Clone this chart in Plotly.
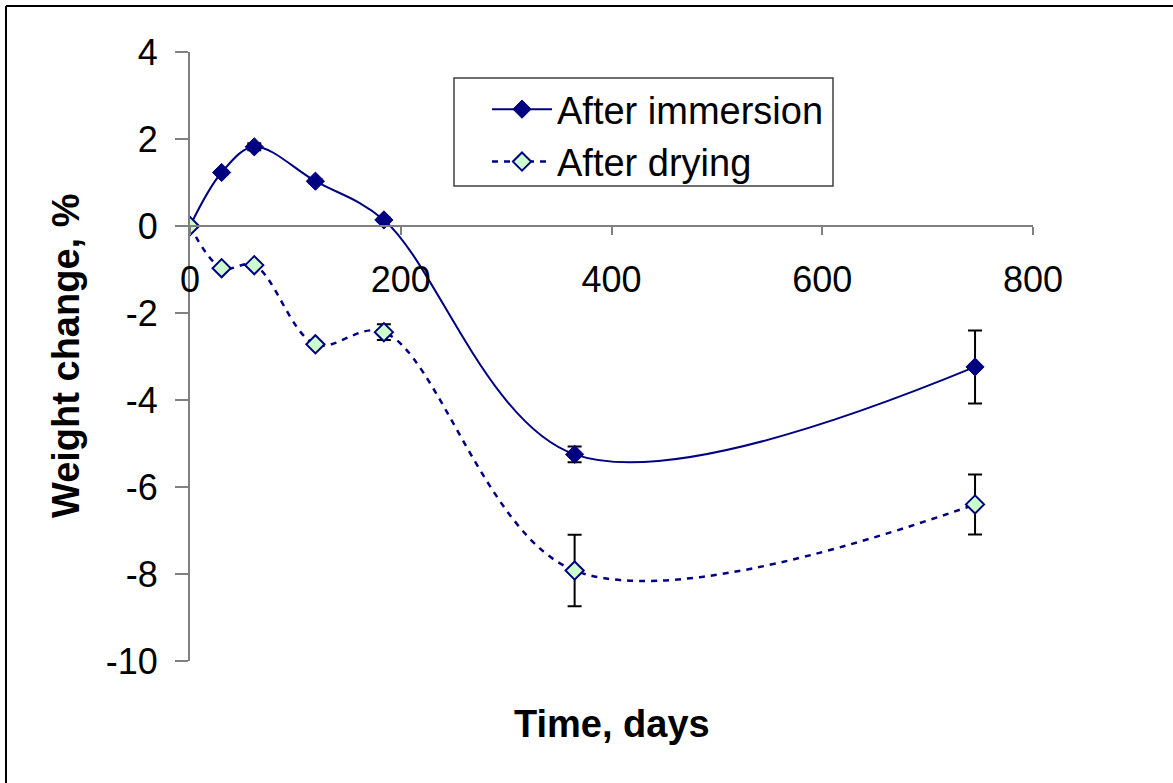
import plotly.graph_objects as go

days = [0, 30, 61, 119, 184, 365, 745]
immersion = [0.0, 1.23, 1.82, 1.03, 0.14, -5.25, -3.24]
immersion_err = [0.0, 0.04, 0.08, 0.05, 0.05, 0.18, 0.84]
drying = [0.0, -0.97, -0.90, -2.72, -2.44, -7.92, -6.40]
drying_err = [0.0, 0.04, 0.04, 0.05, 0.18, 0.82, 0.69]
x_ticks = [0, 200, 400, 600, 800]
y_ticks = [4, 2, 0, -2, -4, -6, -8, -10]

W, H = 1173, 783
L, R, T, B = 190, 1033, 52, 661
FONT = "Liberation Sans, Arial, sans-serif"
NAVY = "#000080"

def px(x):
    return (x - L) / (R - L)

def py(y):
    return (B - y) / (B - T)

fig = go.Figure()
fig.add_trace(go.Scatter(
    x=days, y=immersion, name="After immersion", mode="lines+markers",
    line=dict(color=NAVY, width=2, shape="spline", smoothing=1),
    marker=dict(symbol="diamond", size=14, color=NAVY, line=dict(color=NAVY, width=1)),
    error_y=dict(type="data", array=immersion_err, visible=True, color="black", thickness=2, width=7),
))
fig.add_trace(go.Scatter(
    x=days, y=drying, name="After drying", mode="lines+markers",
    line=dict(color=NAVY, width=2.5, dash="6px,6px", shape="spline", smoothing=1),
    marker=dict(symbol="diamond", size=14, color="#CCFFCC", line=dict(color=NAVY, width=2)),
    error_y=dict(type="data", array=drying_err, visible=True, color="black", thickness=2, width=7),
))

fig.update_layout(
    width=W, height=H,
    margin=dict(l=L, r=W - R, t=T, b=H - B),
    paper_bgcolor="white", plot_bgcolor="white",
    font=dict(family=FONT, size=34, color="black"),
    showlegend=True,
    legend=dict(
        x=px(487), y=py(78), xanchor="left", yanchor="top",
        borderwidth=0, bgcolor="rgba(0,0,0,0)",
        font=dict(family=FONT, size=38, color="black"),
        itemwidth=60, tracegroupgap=0,
    ),
    xaxis=dict(
        range=[0, 800], tickvals=x_ticks, ticktext=[str(v) for v in x_ticks],
        showgrid=False, zeroline=False, showline=True, linecolor="#808080", linewidth=2,
        ticks="outside", ticklen=8, tickwidth=2, tickcolor="#808080",
        anchor="free", position=10 / 14, ticklabelstandoff=14,
        tickfont=dict(family=FONT, size=36, color="black"),
    ),
    yaxis=dict(
        range=[-10, 4], tickvals=y_ticks, ticktext=[str(v) for v in y_ticks],
        showgrid=False, zeroline=False, showline=True, linecolor="#808080", linewidth=2,
        ticks="outside", ticklen=13, tickwidth=2, tickcolor="#808080",
        ticklabelstandoff=10,
        tickfont=dict(family=FONT, size=36, color="black"),
    ),
    annotations=[
        dict(text="<b>Time, days</b>", x=px(612), y=py(724), xref="paper", yref="paper",
             showarrow=False, font=dict(family=FONT, size=38, color="black"),
             xanchor="center", yanchor="middle"),
        dict(text="<b>Weight change, %</b>", x=px(66), y=py(356), xref="paper", yref="paper",
             showarrow=False, font=dict(family=FONT, size=38, color="black"),
             textangle=-90, xanchor="center", yanchor="middle"),
    ],
    shapes=[
        dict(type="rect", xref="paper", yref="paper", x0=px(454), x1=px(833), y0=py(78), y1=py(186),
             line=dict(color="#404040", width=1.5), fillcolor="rgba(0,0,0,0)", layer="below"),
        dict(type="line", xref="paper", yref="paper", x0=px(6), x1=px(6), y0=py(6), y1=py(790),
             line=dict(color="black", width=2)),
        dict(type="line", xref="paper", yref="paper", x0=px(6), x1=px(1180), y0=py(6), y1=py(6),
             line=dict(color="black", width=2)),
    ],
)

fig.write_html("out.html", config={"displayModeBar": False},
               post_script="document.body.style.margin='0';document.body.style.overflow='hidden';")
